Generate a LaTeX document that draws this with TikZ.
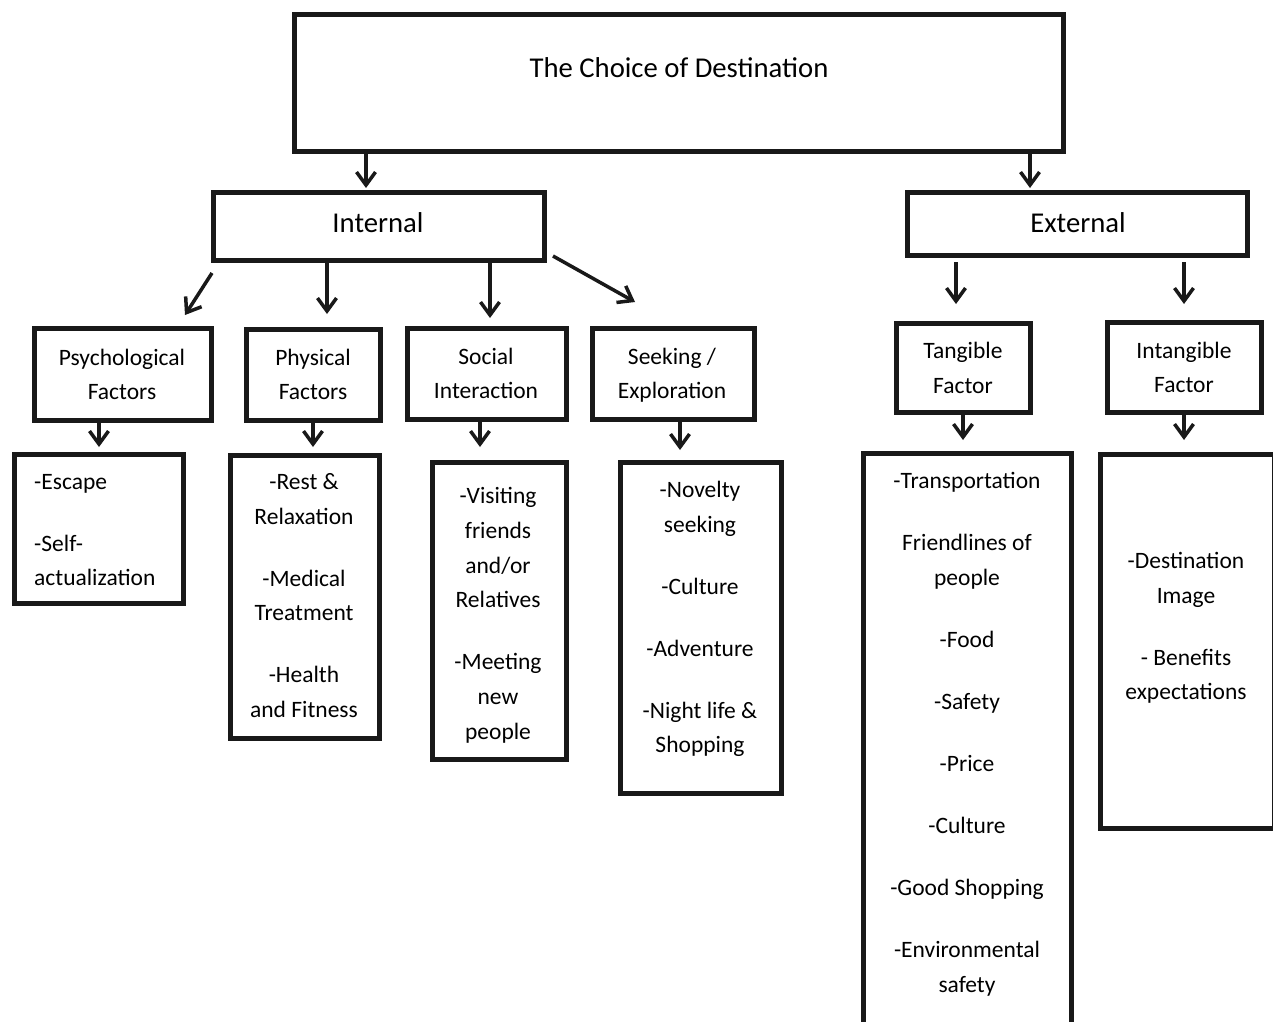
\documentclass[tikz,border=0pt]{standalone}
\usepackage{fontspec}
\setmainfont{Carlito}
\usetikzlibrary{arrows.meta}
\begin{document}
\begin{tikzpicture}[x=1pt,y=-1pt,
  box/.style={draw=black!90, line width=5pt, rectangle, inner sep=0pt},
  arr/.style={draw=black!90, line width=3.5pt, -{Straight Barb[length=13pt,width=19pt]}},
  txt/.style={inner sep=0pt, align=center, yshift=-2pt, font=\fontsize{23.5}{34.7}\selectfont},
  big/.style={inner sep=0pt, anchor=base, font=\fontsize{28.7}{34}\selectfont}]
\useasboundingbox (0,0) rectangle (1273,1021);
\fill[white] (0,0) rectangle (1273,1021);
\clip (0,0) rectangle (1273,1021);
% boxes
\node[box, minimum width=769pt, minimum height=137pt] (dest) at (678.5,82.5) {};
\node[box, minimum width=331pt, minimum height=68pt] (internal) at (378.5,226) {};
\node[box, minimum width=340pt, minimum height=63pt] (external) at (1077,223.5) {};
\node[box, minimum width=177pt, minimum height=92pt] (psych) at (122.5,374) {};
\node[box, minimum width=134pt, minimum height=91pt] (physical) at (313,374.5) {};
\node[box, minimum width=159pt, minimum height=91pt] (social) at (486.5,373.5) {};
\node[box, minimum width=162pt, minimum height=91pt] (seeking) at (673,373.5) {};
\node[box, minimum width=169pt, minimum height=149pt] (escape) at (98.5,528.5) {};
\node[box, minimum width=149pt, minimum height=283pt] (physdet) at (304.5,596.5) {};
\node[box, minimum width=134pt, minimum height=297pt] (socdet) at (499,610.5) {};
\node[box, minimum width=161pt, minimum height=331pt] (seekdet) at (700.5,627.5) {};
\node[box, minimum width=134pt, minimum height=89pt] (tangible) at (963,367.5) {};
\node[box, minimum width=154pt, minimum height=90pt] (intangible) at (1184,367) {};
\node[box, minimum width=208pt, minimum height=592pt] (tangdet) at (967,749) {};
\node[box, minimum width=174.5pt, minimum height=374pt] (intdet) at (1187.25,641) {};
% texts
\node[big] (destT) at (679,77) {The Choice of Destination};
\node[big] (internalT) at (378,232) {Internal};
\node[big] (externalT) at (1078,232) {External};
\node[txt] (psychT) at (122,373.6) {\strut Psychological\\Factors\strut};
\node[txt] (physicalT) at (313,373.6) {\strut Physical\\Factors\strut};
\node[txt] (socialT) at (486,372.6) {\strut Social\\Interaction\strut};
\node[txt] (seekingT) at (672,372.6) {\strut Seeking /\\Exploration\strut};
\node[txt] (tangibleT) at (963,367.1) {\strut Tangible\\Factor\strut};
\node[txt] (intangibleT) at (1184,366.6) {\strut Intangible\\Factor\strut};
\node[txt, align=left, anchor=west] (escapeT) at (34,528.6) {\strut -Escape\\[27.3pt]-Self-\\actualization\strut};
\node[txt] (physdetT) at (304,594.6) {\strut -Rest \&\\Relaxation\\[27.3pt]-Medical\\Treatment\\[27.3pt]-Health\\and Fitness\strut};
\node[txt] (socdetT) at (498,612.6) {\strut -Visiting\\friends\\and/or\\Relatives\\[27.3pt]-Meeting\\new\\people\strut};
\node[txt] (seekdetT) at (700,616.1) {\strut -Novelty\\seeking\\[27.3pt]-Culture\\[27.3pt]-Adventure\\[27.3pt]-Night life \&\\Shopping\strut};
\node[txt] (tangdetT) at (967,731.6) {\strut -Transportation\\[27.3pt]Friendlines of\\people\\[27.3pt]-Food\\[27.3pt]-Safety\\[27.3pt]-Price\\[27.3pt]-Culture\\[27.3pt]-Good Shopping\\[27.3pt]-Environmental\\safety\strut};
\node[txt] (intdetT) at (1186,625.1) {\strut -Destination\\Image\\[27.3pt]- Benefits\\expectations\strut};
% arrows
\draw[arr, shorten >=1.5pt] ([xshift=-312.5pt]dest.south) -- ([xshift=-12.5pt]internal.north);
\draw[arr, shorten >=1.5pt] ([xshift=351.5pt]dest.south) -- ([xshift=-47pt]external.north);
\draw[arr] ([shift={(1.5,10.5)}]internal.south west) -- ([shift={(62.5,-10.5)}]psych.north);
\draw[arr, shorten >=12.5pt] ([xshift=-51.5pt]internal.south) -- ([xshift=14pt]physical.north);
\draw[arr, shorten >=7.5pt] ([xshift=111.5pt]internal.south) -- ([xshift=3.5pt]social.north);
\draw[arr] ([shift={(6.5,-6.5)}]internal.south east) -- ([shift={(-38,-23.5)}]seeking.north);
\draw[arr, shorten >=4.5pt] ([xshift=-23.5pt]psych.south) -- ([xshift=0.5pt]escape.north);
\draw[arr, shorten >=5.5pt] (physical.south) -- ([xshift=8.5pt]physdet.north);
\draw[arr, shorten >=12.5pt] ([xshift=-6.5pt]social.south) -- ([xshift=-19pt]socdet.north);
\draw[arr, shorten >=9.5pt] ([xshift=7pt]seeking.south) -- ([xshift=-20.5pt]seekdet.north);
\draw[arr, shorten <=4.5pt, shorten >=16.5pt] ([xshift=-121pt]external.south) -- ([xshift=-7pt]tangible.north);
\draw[arr, shorten <=4.5pt, shorten >=15.5pt] ([xshift=107pt]external.south) -- (intangible.north);
\draw[arr, shorten >=10.5pt] (tangible.south) -- ([xshift=-4pt]tangdet.north);
\draw[arr, shorten >=11.5pt] (intangible.south) -- ([xshift=-3.25pt]intdet.north);
\end{tikzpicture}
\end{document}
